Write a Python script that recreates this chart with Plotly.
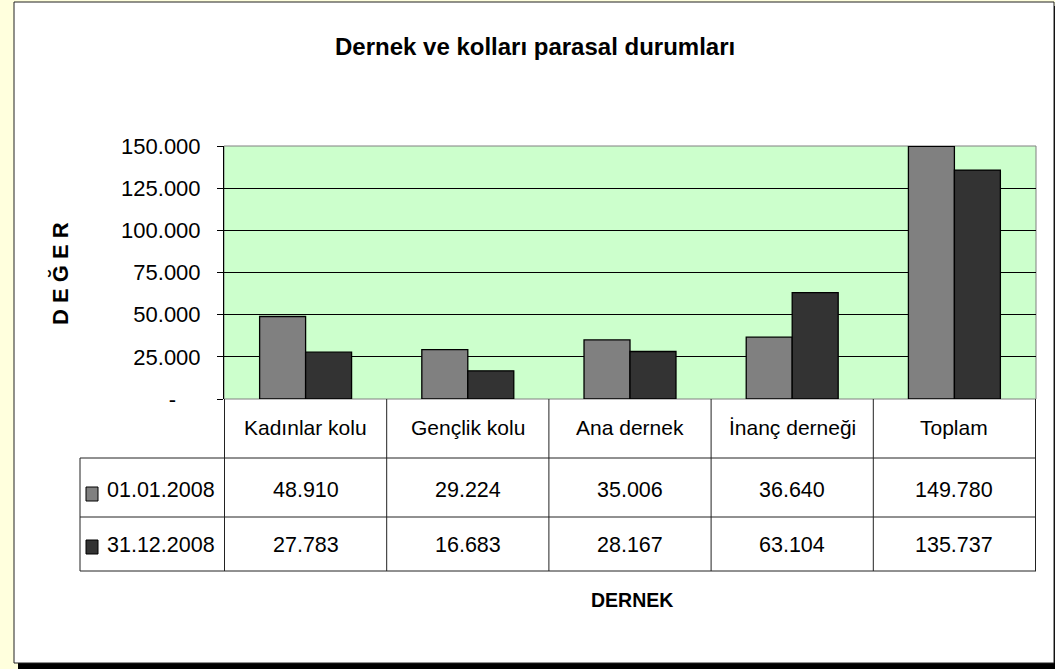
import plotly.graph_objects as go

categories = ["Kadınlar kolu", "Gençlik kolu", "Ana dernek", "İnanç derneği", "Toplam"]
series_names = ["01.01.2008", "31.12.2008"]
values_start = [48910, 29224, 35006, 36640, 149780]
values_end = [27783, 16683, 28167, 63104, 135737]
tick_vals = [0, 25000, 50000, 75000, 100000, 125000, 150000]
tick_text = ["-\u00a0\u00a0\u00a0\u00a0", "25.000", "50.000", "75.000", "100.000", "125.000", "150.000"]

COLORS = ["#808080", "#333333"]
FONT = "Liberation Sans, Arial, sans-serif"
W, H = 1055, 669
# plot area in pixels
L, R, T, B = 224, 1036, 146, 399
ROW_Y = [490, 545]


def px(x):
    return (x - L) / (R - L)


def py(y):
    return (B - y) / (B - T)


def fmt(v):
    return f"{v:,}".replace(",", ".")


def label(text, x, y, size, xref="paper", **kw):
    return dict(text=text, xref=xref, yref="paper", x=x, y=py(y), showarrow=False,
                xanchor=kw.pop("xanchor", "center"), yanchor="middle",
                font=dict(family=FONT, size=size, color="black"), **kw)


fig = go.Figure()
for name, vals, color in zip(series_names, [values_start, values_end], COLORS):
    fig.add_trace(
        go.Bar(
            x=categories,
            y=vals,
            name=name,
            marker=dict(color=color, line=dict(color="black", width=1.3)),
            hoverinfo="x+y",
        )
    )

shapes = [
    # shadow and chart box
    dict(type="rect", xref="paper", yref="paper", x0=px(18), x1=px(1059), y0=py(6), y1=py(669),
         fillcolor="black", line=dict(width=0), layer="below"),
    dict(type="rect", xref="paper", yref="paper", x0=px(14), x1=px(1054), y0=py(2), y1=py(663),
         fillcolor="white", line=dict(color="#222", width=1), layer="below"),
    # plot area
    dict(type="rect", xref="paper", yref="paper", x0=0, x1=1, y0=0, y1=1,
         fillcolor="#CCFFCC", line=dict(color="#808080", width=1), layer="below"),
]

# data table grid
line = dict(color="#222", width=1)
for y in [458, 517, 571]:
    shapes.append(dict(type="line", xref="paper", yref="paper", x0=px(80), x1=1,
                       y0=py(y), y1=py(y), line=line))
shapes.append(dict(type="line", xref="paper", yref="paper", x0=px(80), x1=px(80),
                   y0=py(458), y1=py(571), line=line))
for i in range(len(categories) + 1):
    shapes.append(dict(type="line", xref="x", yref="paper", x0=i - 0.5, x1=i - 0.5,
                       y0=0, y1=py(571), line=line))
# legend keys
for yc, color in zip([494, 547], COLORS):
    shapes.append(dict(type="rect", xref="paper", yref="paper", x0=px(86), x1=px(98),
                       y0=py(yc - 7), y1=py(yc + 7), fillcolor=color,
                       line=dict(color="black", width=1)))

annotations = [
    label("<b>Dernek ve kolları parasal durumları</b>", px(535), 46, 24),
    label("<b>D E Ğ E R</b>", px(60), 274, 22, textangle=-90),
    label("<b>DERNEK</b>", px(632), 600, 19.5),
]
for cat in categories:
    annotations.append(label(cat, cat, 427, 21, xref="x"))
for yc, name, vals in zip(ROW_Y, series_names, [values_start, values_end]):
    annotations.append(label(name, px(105), yc, 21.5, xanchor="left"))
    for cat, v in zip(categories, vals):
        annotations.append(label(fmt(v), cat, yc, 21.5, xref="x"))

fig.update_layout(
    width=W,
    height=H,
    margin=dict(l=L, r=W - R, t=T, b=H - B),
    paper_bgcolor="#FFFFDD",
    plot_bgcolor="#CCFFCC",
    barmode="group",
    bargap=0.433,
    bargroupgap=0,
    showlegend=False,
    shapes=shapes,
    annotations=annotations,
    xaxis=dict(showticklabels=False, showgrid=False, zeroline=False, showline=False, ticks=""),
    yaxis=dict(
        range=[0, 150000],
        tickvals=tick_vals,
        ticktext=tick_text,
        ticks="outside",
        ticklen=6,
        tickcolor="black",
        showline=True,
        linecolor="black",
        showgrid=True,
        gridcolor="black",
        gridwidth=1,
        zeroline=False,
        ticklabelstandoff=12,
        tickfont=dict(family=FONT, size=22, color="black"),
    ),
)

fig.write_html(
    "out.html",
    config={"displayModeBar": False},
    post_script="document.body.style.margin = '0';",
)
